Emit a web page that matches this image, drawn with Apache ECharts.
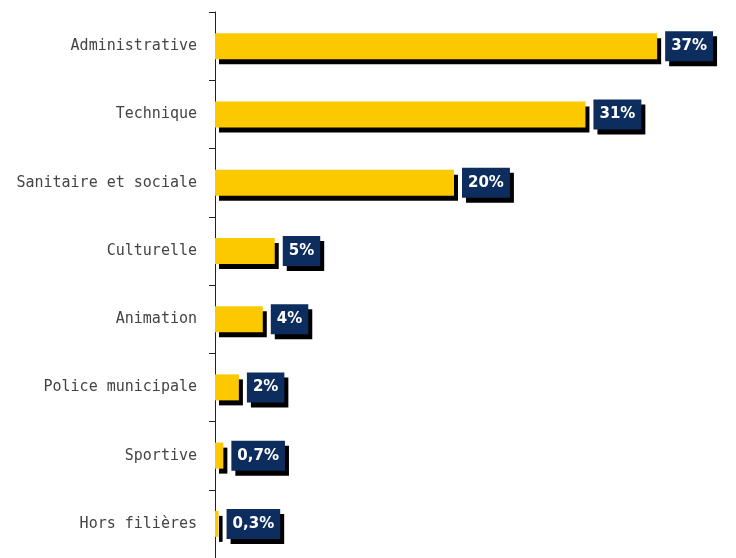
<!DOCTYPE html>
<html>
<head>
<meta charset="utf-8">
<script src="https://cdn.jsdelivr.net/npm/echarts@6/dist/echarts.min.js"></script>
<style>
html,body{margin:0;padding:0;background:#fff;}
#c{width:736px;height:558px;}
</style>
</head>
<body>
<div id="c"></div>
<script>
var categories = ["Administrative","Technique","Sanitaire et sociale","Culturelle","Animation","Police municipale","Sportive","Hors filières"];
var values = [37, 31, 20, 5, 4, 2, 0.7, 0.3];
var valueLabels = ["37%","31%","20%","5%","4%","2%","0,7%","0,3%"];

var chart = echarts.init(document.getElementById('c'));
chart.setOption({
  animation: false,
  backgroundColor: '#ffffff',
  grid: { left: 215, top: 12, height: 552, right: 43 },
  xAxis: {
    type: 'value', min: 0, max: 40, show: false
  },
  yAxis: {
    type: 'category', data: categories, inverse: true,
    axisLine: { show: true, lineStyle: { color: '#222', width: 1 } },
    axisTick: { show: true, length: 6, lineStyle: { color: '#222' } },
    axisLabel: { color: '#444', fontSize: 15, fontFamily: 'DejaVu Sans Mono', margin: 18 }
  },
  series: [{
    type: 'bar',
    data: values,
    barWidth: 26,
    itemStyle: {
      color: '#fcc800',
      shadowColor: '#000000',
      shadowOffsetX: 4,
      shadowOffsetY: 5,
      shadowBlur: 0
    },
    label: {
      show: true,
      position: 'right',
      distance: 8,
      formatter: function (p) { return valueLabels[p.dataIndex]; },
      color: '#ffffff',
      fontWeight: 'bold',
      fontSize: 15,
      fontFamily: 'DejaVu Sans',
      backgroundColor: '#0d2d5e',
      padding: [7, 6, 7, 6],
      lineHeight: 16,
      shadowColor: '#000000',
      shadowOffsetX: 4,
      shadowOffsetY: 5,
      shadowBlur: 0
    }
  }]
});
</script>
</body>
</html>
